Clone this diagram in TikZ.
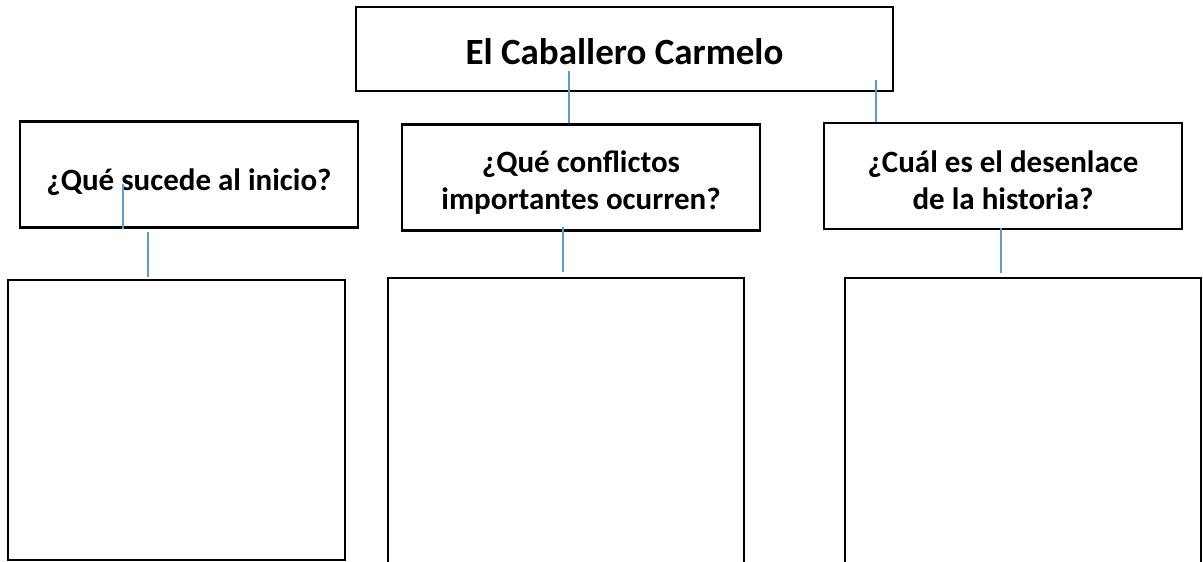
\documentclass[tikz,border=0pt]{standalone}
\usepackage{fontspec}
\setmainfont{Carlito}
\usepackage{xcolor}
\usetikzlibrary{positioning}
\definecolor{linkblue}{RGB}{91,155,213}

\begin{document}
\begin{tikzpicture}[x=1pt,y=-1pt]
		\tikzset{box/.style = {shape=rectangle, draw, line width=2.8pt, inner sep=0pt}}
		\tikzset{question/.style = {box, minimum height=106pt}}
		\tikzset{qtext/.style = {inner sep=0pt, align=center, font=\fontsize{31}{37}\selectfont\bfseries}}
		\tikzset{answer/.style = {box, minimum width=356pt, minimum height=344pt}}
		\tikzset{link/.style = {draw=linkblue, line width=2pt}}

		\useasboundingbox (0,0) rectangle (1203,562);

		\node[box, minimum width=537pt, minimum height=84pt] (title) at (624.5,49) {};
		\node[qtext, font=\fontsize{37}{44}\selectfont\bfseries] (titletext) at ([yshift=-3pt]title.center) {El Caballero Carmelo};

		\node[question, minimum width=338pt] (q1) at (189,174.5) {};
		\node[question, minimum width=358pt] (q2) at (581,177.5) {};
		\node[question, minimum width=358pt] (q3) at (1003,176) {};
		\node[qtext] (q1text) at ([yshift=-8pt]q1.center) {¿Qué sucede al inicio?};
		\node[qtext] (q2text) at ([yshift=-5pt]q2.center) {¿Qué conflictos\\importantes ocurren?};
		\node[qtext] (q3text) at ([yshift=-4pt]q3.center) {¿Cuál es el desenlace\\de la historia?};

		\node[answer, minimum width=337pt, minimum height=280pt] (a1) at (176.5,420) {};
		\node[answer] (a2) at (566,450) {};
		\node[answer] (a3) at (1023,450) {};

		\coordinate (t1) at (569,71);
		\coordinate (t2) at (876,80);
		\coordinate (s1) at (123,184);
		\coordinate (d1) at (148,232);
		\coordinate (e1) at (148,277);
		\coordinate (d2) at (563,227);
		\coordinate (e2) at (563,272);
		\coordinate (d3) at (1001,228);
		\coordinate (e3) at (1001,273);

		\draw[link] (t1) -- (t1 |- q2.north);
		\draw[link] (t2) -- (t2 |- q3.north);
		\draw[link] (s1) -- (s1 |- q1.south);
		\draw[link] (d1) -- (e1);
		\draw[link] (d2) -- (e2);
		\draw[link] (d3) -- (e3);
	\end{tikzpicture}
\end{document}
